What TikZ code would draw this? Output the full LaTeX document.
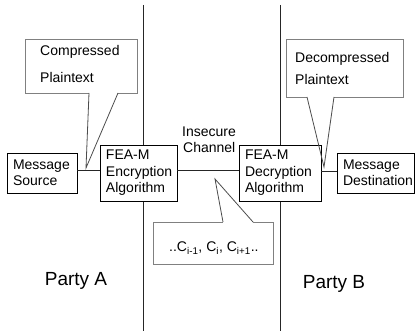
\documentclass[tikz,border=0pt]{standalone}
\usepackage{fontspec}
\setmainfont{Liberation Sans}
\begin{document}
\begin{tikzpicture}[x=1pt,y=-1pt,
  txt/.style={font=\fontsize{14}{16.5}\selectfont, inner sep=0pt},
  box/.style={draw=black, fill=white, line width=0.9pt, font=\fontsize{14}{16.5}\selectfont,
    align=left, inner xsep=6pt, inner ysep=0pt},
  wire/.style={draw=black!85, line width=0.8pt},
  callbox/.style={draw=black!50, line width=0.9pt},
  callptr/.style={draw=black!70, line width=0.8pt},
  party/.style={font=\fontsize{19}{22}\selectfont, inner sep=0pt}]
\useasboundingbox (0,0) rectangle (416,336);
% vertical separators
\coordinate (lt) at (143,5);
\coordinate (lb) at (143,331);
\coordinate (rt) at (280,5);
\coordinate (rb) at (280,331);
\draw[wire] (lt) -- (lb);
\draw[wire] (rt) -- (rb);
% boxes
\node[box, text width=58pt, minimum height=40pt] (src) at (42,173) {Message\\Source};
\node[box, text width=65pt, minimum height=56pt] (enc) at (138.5,173) {FEA-M\\Encryption\\Algorithm};
\node[box, text width=70pt, minimum height=56pt] (dec) at (280,173) {FEA-M\\Decryption\\Algorithm};
\node[box, text width=65pt, minimum height=40pt, inner xsep=6pt] (dst) at (375.5,173) {Message\\Destination};
% connectors
\draw[wire] ([yshift=3pt]src.east) -- ([yshift=3pt]enc.west);
\draw[wire] ([yshift=3pt]enc.east) -- ([yshift=3pt]dec.west);
\draw[wire] ([yshift=1.5pt]dec.east) -- ([yshift=1.5pt]dst.west);
% channel label
\node[txt, anchor=base west] (ch1) at (182,137) {Insecure};
\node[txt, anchor=base west] (ch2) at (183,153) {Channel};
% callout: compressed plaintext
\coordinate (ctip) at (86,168);
\draw[callbox] (89,93) -- (25,93) -- (25,39) -- (137,39) -- (137,93) -- (118,93);
\draw[callptr] (89,93) -- (ctip) -- (118,93);
\node[txt, anchor=base west] (cp1) at (40,56) {Compressed};
\node[txt, anchor=base west] (cp2) at (40,83) {Plaintext};
% callout: decompressed plaintext
\coordinate (dtip) at (324,167);
\draw[callbox] (307,97) -- (286,97) -- (286,39) -- (403,39) -- (403,97) -- (334,97);
\draw[callptr] (307,97) -- (dtip) -- (334,97);
\node[txt, anchor=base west] (dp1) at (295,63) {Decompressed};
\node[txt, anchor=base west] (dp2) at (295,85) {Plaintext};
% callout: ciphertext
\coordinate (ktip) at (215,179);
\draw[callbox] (223,222) -- (153,222) -- (153,264) -- (273,264) -- (273,222) -- (253,222);
\draw[callptr] (223,222) -- (ktip) -- (253,222);
\node[txt, anchor=base west] (ct) at (169,252) {..C\textsubscript{i-1}, C\textsubscript{i}, C\textsubscript{i+1}..};
% parties
\node[party, anchor=base] (pa) at (76,286) {Party A};
\node[party, anchor=base] (pb) at (334,289) {Party B};
\end{tikzpicture}
\end{document}
